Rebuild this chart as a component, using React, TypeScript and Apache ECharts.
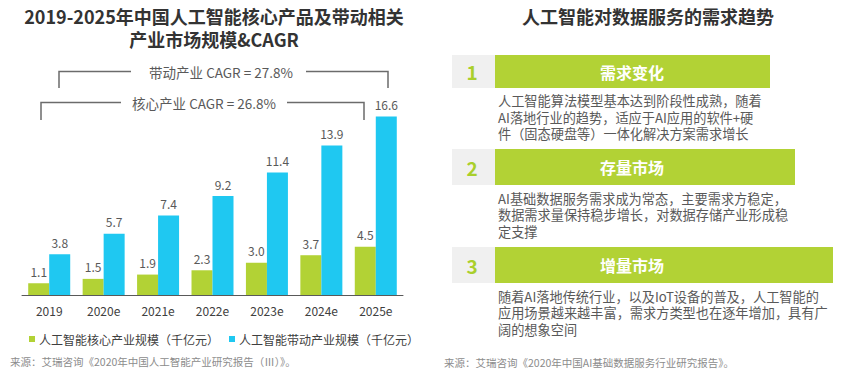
import React, { useEffect, useRef } from "react";
import * as echarts from "echarts";

const years = ["2019", "2020e", "2021e", "2022e", "2023e", "2024e", "2025e"];
const coreValues = [1.1, 1.5, 1.9, 2.3, 3.0, 3.7, 4.5];
const drivenValues = [3.8, 5.7, 7.4, 9.2, 11.4, 13.9, 16.6];
const seriesNames = ["人工智能核心产业规模（千亿元）", "人工智能带动产业规模（千亿元）"];
const cagrDriven = "带动产业 CAGR = 27.8%";
const cagrCore = "核心产业 CAGR = 26.8%";
const leftTitle = ["2019-2025年中国人工智能核心产品及带动相关", "产业市场规模&CAGR"];
const rightTitle = "人工智能对数据服务的需求趋势";
const sectionNumbers = ["1", "2", "3"];
const sectionTitles = ["需求变化", "存量市场", "增量市场"];
const sectionTexts = [
  ["人工智能算法模型基本达到阶段性成熟，随着", "AI落地行业的趋势，适应于AI应用的软件+硬", "件（固态硬盘等）一体化解决方案需求增长"],
  ["AI基础数据服务需求成为常态，主要需求方稳定，", "数据需求量保持稳步增长，对数据存储产业形成稳", "定支撑"],
  ["随着AI落地传统行业，以及IoT设备的普及，人工智能的", "应用场景越来越丰富，需求方类型也在逐年增加，具有广", "阔的想象空间"],
];
const sourceLeft = "来源：艾瑞咨询《2020年中国人工智能产业研究报告（Ⅲ）》。";
const sourceRight = "来源：艾瑞咨询《2020年中国AI基础数据服务行业研究报告》。";

const GREEN = "#b2d235";
const BLUE = "#1fc8f1";
const FONT = "'Noto Sans CJK SC', 'Noto Sans', sans-serif";

export default function App() {
  const ref = useRef<HTMLDivElement>(null);
  useEffect(() => {
    if (!ref.current) return;
    const chart = echarts.init(ref.current, null, { renderer: "svg" });

    const graphics: any[] = [];
    leftTitle.forEach((t, i) => {
      graphics.push({
        type: "text", x: 214, y: 16 + i * 23,
        style: { text: t, fill: "#333", font: `bold 18px ${FONT}`, textAlign: "center", textVerticalAlign: "middle" },
      });
    });
    const lineStyle = { stroke: "#6b6b6b", lineWidth: 1.5, fill: null };
    graphics.push({ type: "polyline", shape: { points: [[59, 88], [59, 71.5], [131, 71.5]] }, style: lineStyle });
    graphics.push({ type: "polyline", shape: { points: [[306, 71.5], [388, 71.5], [388, 88]] }, style: lineStyle });
    graphics.push({
      type: "text", x: 221, y: 71.5,
      style: { text: cagrDriven, fill: "#595959", font: `13.5px ${FONT}`, textAlign: "center", textVerticalAlign: "middle" },
    });
    graphics.push({ type: "polyline", shape: { points: [[41, 120], [41, 102.5], [121, 102.5]] }, style: lineStyle });
    graphics.push({ type: "polyline", shape: { points: [[287, 102.5], [364, 102.5], [364, 120]] }, style: lineStyle });
    graphics.push({
      type: "text", x: 204, y: 102.5,
      style: { text: cagrCore, fill: "#595959", font: `13.5px ${FONT}`, textAlign: "center", textVerticalAlign: "middle" },
    });
    graphics.push({
      type: "text", x: 10, y: 361,
      style: { text: sourceLeft, fill: "#8c8c8c", font: `10.5px ${FONT}`, textVerticalAlign: "middle" },
    });
    graphics.push({
      type: "text", x: 444, y: 362,
      style: { text: sourceRight, fill: "#8c8c8c", font: `10.5px ${FONT}`, textVerticalAlign: "middle" },
    });
    graphics.push({
      type: "text", x: 648, y: 16,
      style: { text: rightTitle, fill: "#333", font: `bold 18px ${FONT}`, textAlign: "center", textVerticalAlign: "middle" },
    });
    const rowTops = [55, 149, 247];
    const rowH = [33, 36, 36];
    const barRight = [770, 795, 833];
    const textTops = [100.5, 198, 296];
    sectionNumbers.forEach((n, i) => {
      const top = rowTops[i];
      const h = rowH[i];
      graphics.push({ type: "rect", shape: { x: 452, y: top, width: 43, height: h }, style: { fill: "#f0f0f0" } });
      graphics.push({ type: "rect", shape: { x: 495, y: top, width: barRight[i] - 495, height: h }, style: { fill: GREEN } });
      graphics.push({
        type: "text", x: 472, y: top + h / 2,
        style: { text: n, fill: "#a9cf2c", font: `bold 19px ${FONT}`, textAlign: "center", textVerticalAlign: "middle" },
      });
      graphics.push({
        type: "text", x: 632, y: top + h / 2,
        style: { text: sectionTitles[i], fill: "#fff", font: `bold 16px ${FONT}`, textAlign: "center", textVerticalAlign: "middle" },
      });
      sectionTexts[i].forEach((line, j) => {
        graphics.push({
          type: "text", x: 498, y: textTops[i] + j * 16.6,
          style: { text: line, fill: "#595959", font: `13.2px ${FONT}`, textVerticalAlign: "middle" },
        });
      });
    });

    chart.setOption({
      animation: false,
      textStyle: { fontFamily: FONT },
      grid: { left: 22, right: 440, top: 80, bottom: 78 },
      legend: {
        left: 24, top: 328, itemWidth: 6, itemHeight: 6, itemGap: 10, icon: "rect",
        textStyle: { fontSize: 12, color: "#404040", padding: [0, 0, 0, -1] },
        data: seriesNames,
      },
      xAxis: {
        type: "category", data: years,
        axisLine: { lineStyle: { color: "#595959", width: 1 } },
        axisTick: { show: false },
        axisLabel: { fontSize: 12, color: "#404040", margin: 9 },
      },
      yAxis: { type: "value", min: 0, max: 20, show: false, splitLine: { show: false } },
      series: [
        {
          name: seriesNames[0], type: "bar", data: coreValues, barWidth: 21, barGap: "0%",
          itemStyle: { color: GREEN },
          label: { show: true, position: "top", distance: 6, fontSize: 12, color: "#595959", formatter: (p: any) => p.value.toFixed(1) },
        },
        {
          name: seriesNames[1], type: "bar", data: drivenValues, barWidth: 21,
          itemStyle: { color: BLUE },
          label: { show: true, position: "top", distance: 6, fontSize: 12, color: "#595959", formatter: (p: any) => p.value.toFixed(1) },
        },
      ],
      graphic: graphics,
    });
    return () => chart.dispose();
  }, []);
  return <div ref={ref} style={{ width: 843, height: 373, position: "absolute", left: 0, top: 0 }} />;
}
